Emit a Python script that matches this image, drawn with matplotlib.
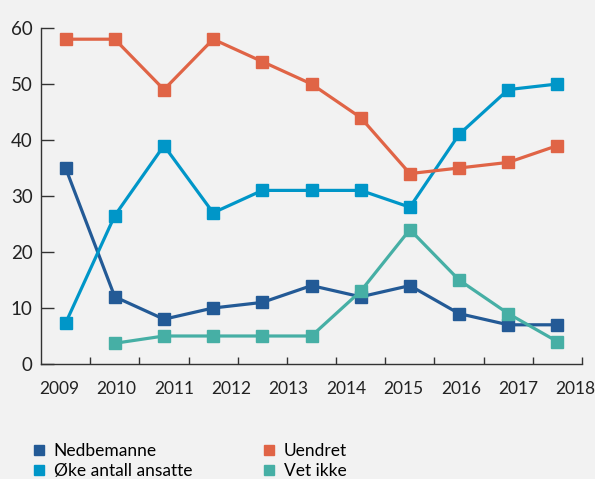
import matplotlib.pyplot as plt
import numpy as np
from matplotlib.lines import Line2D

# Survey rounds (11 points) and year labels along the axis
years = ["2009", "2010", "2011", "2012", "2013", "2014", "2015", "2016", "2017", "2018"]
nedbemanne = [35, 12, 8, 10, 11, 14, 12, 14, 9, 7, 7]
oke_ansatte = [7.3, 26.5, 39, 27, 31, 31, 31, 28, 41, 49, 50]
uendret = [58, 58, 49, 58, 54, 50, 44, 34, 35, 36, 39]
vet_ikke = [np.nan, 3.7, 5, 5, 5, 5, 13, 24, 15, 9, 4]

series = [
    ("Nedbemanne", nedbemanne, "#235a96"),
    ("Øke antall ansatte", oke_ansatte, "#0096c8"),
    ("Uendret", uendret, "#e06446"),
    ("Vet ikke", vet_ikke, "#46afa5"),
]

plt.rcParams['font.family'] = ['Lato', 'DejaVu Sans']
bg = "#f2f2f2"

fig = plt.figure(figsize=(5.95, 4.79), dpi=100, facecolor=bg)
ax = fig.add_axes([41 / 595, 1 - 364 / 479, 541 / 595, 336 / 479], facecolor=bg)

x = np.arange(len(uendret)) + 0.5
for name, vals, col in series:
    ax.plot(x, vals, color=col, lw=2.3, marker='s', ms=8, mec=col, mfc=col)

ax.set_xlim(0, 11)
ax.set_ylim(0, 60)

for s in ["top", "right"]:
    ax.spines[s].set_visible(False)
for s in ["left", "bottom"]:
    ax.spines[s].set_color("#333333")
    ax.spines[s].set_linewidth(1.0)

ax.set_yticks([0, 10, 20, 30, 40, 50, 60])
ax.tick_params(axis='y', direction='in', length=9.5, width=1, color="#333333",
               labelsize=13.5, pad=6, labelcolor="#222222")

# tick marks bound each survey round; year labels spread evenly underneath
ax.set_xticks(np.arange(1, 12))
ax.set_xticklabels([])
ax.tick_params(axis='x', which='major', direction='in', length=5, width=1, color="#333333")
ax.set_xticks(np.linspace(0.37, 10.87, len(years)), minor=True)
ax.set_xticklabels(years, minor=True)
ax.tick_params(axis='x', which='minor', length=0, labelsize=12.5, pad=12, labelcolor="#222222")

handles = [Line2D([], [], ls='none', marker='s', ms=6.5, color=c) for _, _, c in series]
labels = [n for n, _, _ in series]
fig.legend(handles, labels, ncol=2, loc='upper left', bbox_to_anchor=(0.055, 0.076),
           frameon=False, fontsize=12.5, handlelength=0.7, handletextpad=0.5,
           columnspacing=4.1, labelspacing=0.25, borderaxespad=0, borderpad=0)

fig.savefig("out.png", dpi=100, facecolor=bg)
